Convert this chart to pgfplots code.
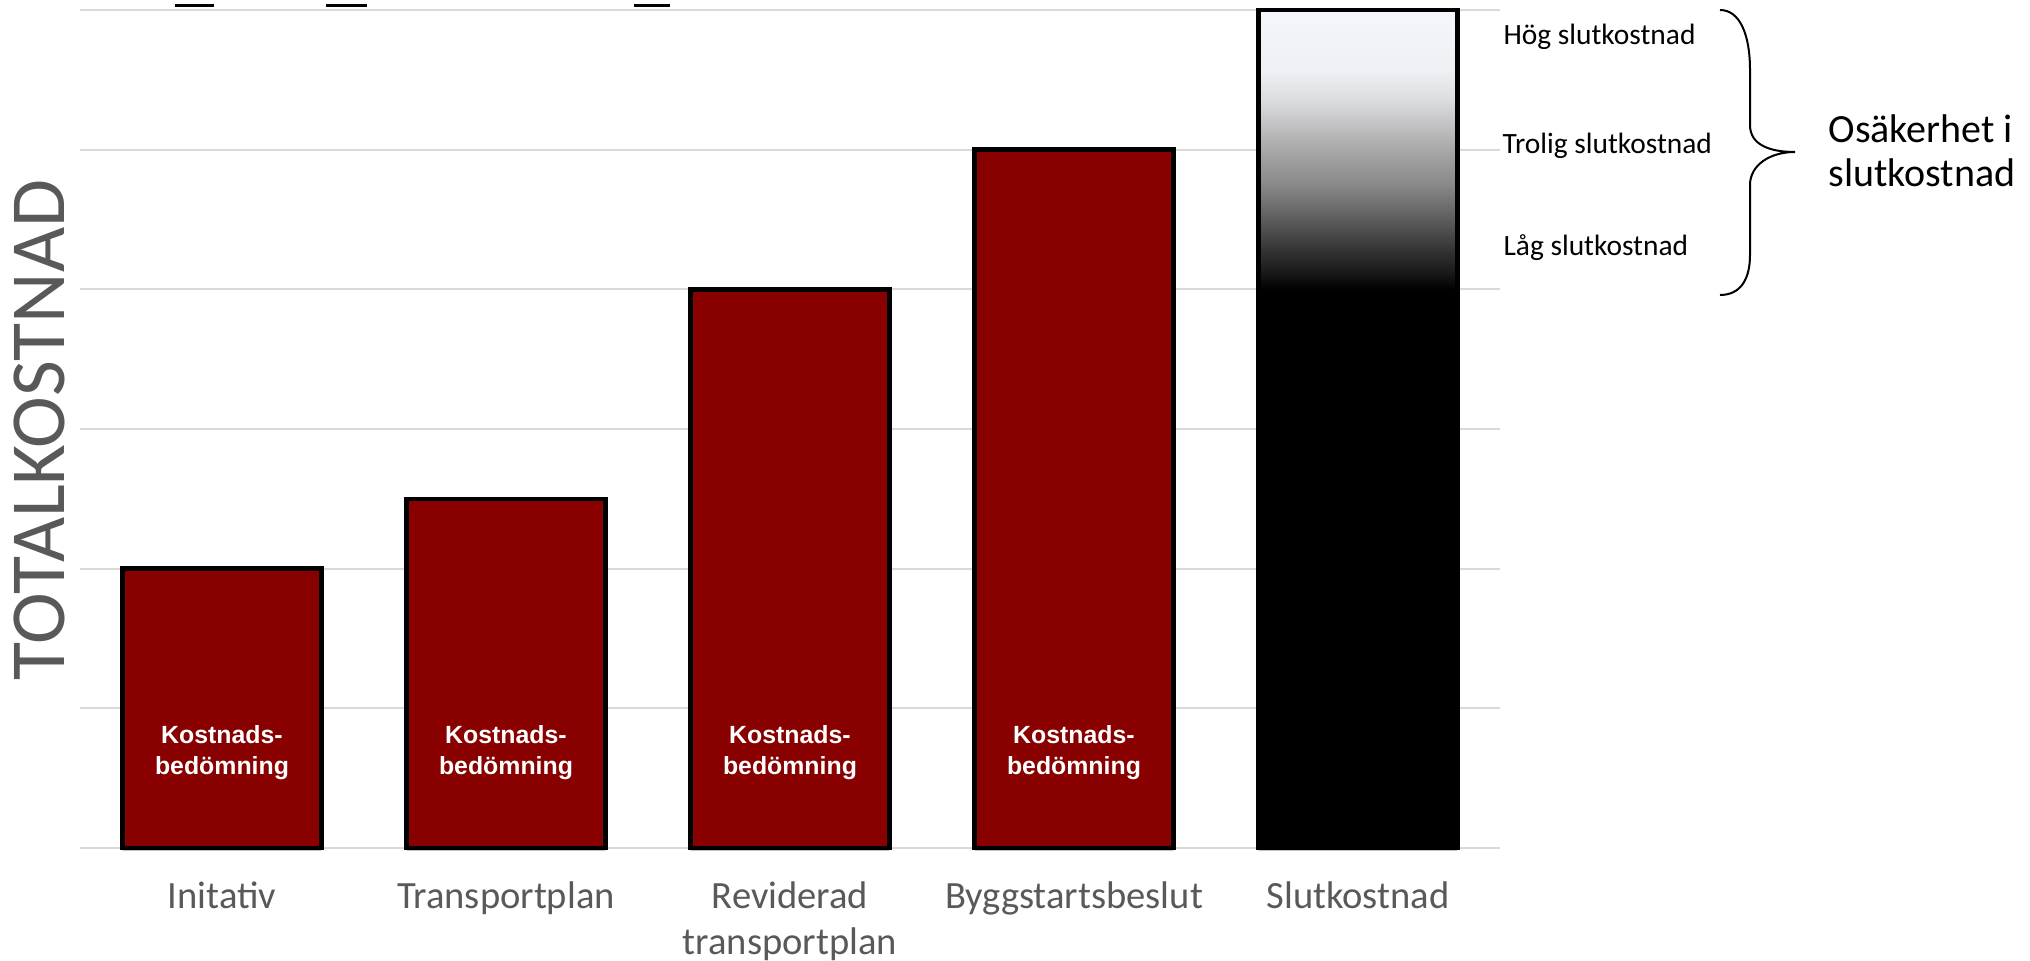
\documentclass[border=0pt]{standalone}
\usepackage{fontspec}
\setmainfont{Carlito}
\newfontfamily\arial{Liberation Sans}
\usepackage{pgfplots}
\pgfplotsset{compat=1.18}

\definecolor{barred}{RGB}{136,0,0}
\definecolor{gridgray}{RGB}{217,217,217}
\definecolor{labgray}{RGB}{89,89,89}
\definecolor{shadowgray}{HTML}{505050}
\definecolor{s1}{HTML}{151515}
\definecolor{s2}{HTML}{353535}
\definecolor{s3}{HTML}{606060}
\definecolor{s4}{HTML}{8A8A8A}
\definecolor{s5}{HTML}{A8A8A8}
\definecolor{s6}{HTML}{DCDDE0}
\definecolor{s7}{HTML}{EEF1F4}
\definecolor{s8}{HTML}{F3F6FA}

% bar spans 0..6 -> 25bp..75bp; black up to 4, then fading to near white at 6
\pgfdeclareverticalshading{slut}{100bp}{color(0bp)=(black); color(58.33bp)=(black);
  color(59.17bp)=(s1); color(60.75bp)=(s2); color(62.67bp)=(s3); color(64.67bp)=(s4);
  color(66.67bp)=(s5); color(69.67bp)=(s6); color(71.42bp)=(s7); color(75bp)=(s8); color(100bp)=(s8)}

\begin{document}
\begin{tikzpicture}
\begin{axis}[name=ax, at={(0,0)}, anchor=south west,
  scale only axis, width=497pt, height=293.3pt,
  xmin=-0.5, xmax=4.5, ymin=0, ymax=6,
  axis line style={draw=none}, tick style={draw=none},
  ytick={0,1,...,6}, yticklabels={}, ymajorgrids,
  grid style={gridgray, line width=0.7pt},
  xtick={0,1,2,3,4},
  xticklabels={Initativ, Transportplan,
    {\begin{tabular}[t]{@{}c@{}}Reviderad\\transportplan\end{tabular}},
    Byggstartsbeslut, Slutkostnad},
  xticklabel style={anchor=base, yshift=-21.35pt,
    font=\fontsize{13.5}{15.8}\selectfont, text=labgray},
  clip=false,
]
% shadow under the bars
\addplot[ybar, bar width=0.7, fill=shadowgray, draw=none]
  coordinates {(0,-0.018) (1,-0.018) (2,-0.018) (3,-0.018) (4,-0.018)};
\addplot[ybar, bar width=0.7, fill=barred, draw=black, line width=1.6pt]
  coordinates {(0,2) (1,2.5) (2,4) (3,5)};
\addplot[ybar, bar width=0.7, shade, shading=slut, draw=black, line width=1.6pt]
  coordinates {(4,6)};

\pgfplotsinvokeforeach{0,1,2,3}{
  \node[text=white, font=\arial\bfseries\fontsize{8.7}{10.8}\selectfont, align=center]
    at (axis cs:#1,0.68) {Kostnads-\\bedömning};
}
\end{axis}

\begin{scope}[shift={(ax.north west)}, x=0.35pt, y=-0.35pt, shift={(-80,-10)}]
  \node[rotate=90, font=\fontsize{27.3}{27}\selectfont, text=labgray] at (39,430) {TOTALKOSTNAD};

  \node[anchor=west, inner sep=0pt, font=\fontsize{10.3}{12}\selectfont] at (1503,37) {Hög slutkostnad};
  \node[anchor=west, inner sep=0pt, font=\fontsize{10.3}{12}\selectfont] at (1502,146) {Trolig slutkostnad};
  \node[anchor=west, inner sep=0pt, font=\fontsize{10.3}{12}\selectfont] at (1503,248) {Låg slutkostnad};

  \draw[line width=0.7pt] (1720,10) .. controls (1740,10) and (1750,35) .. (1750,70) -- (1750,125)
    .. controls (1750,145) and (1770,152) .. (1795,152)
    .. controls (1770,152) and (1750,165) .. (1750,185) -- (1750,255)
    .. controls (1750,280) and (1740,295) .. (1720,295);

  \node[anchor=west, align=left, inner sep=0pt, font=\fontsize{14}{15.4}\selectfont] at (1828,151)
    {Osäkerhet i\\slutkostnad};

  % short dark marks at the top edge
  \draw[line width=1.2pt] (175,5.5) -- (214,5.5);
  \draw[line width=1.2pt] (326,5.5) -- (367,5.5);
  \draw[line width=1.2pt] (634,5.5) -- (670,5.5);

  \coordinate (tl) at (0,0);
  \coordinate (br) at (2030,961);
\end{scope}
\pgfresetboundingbox
\path[use as bounding box] (tl) rectangle (br);
\end{tikzpicture}
\end{document}
